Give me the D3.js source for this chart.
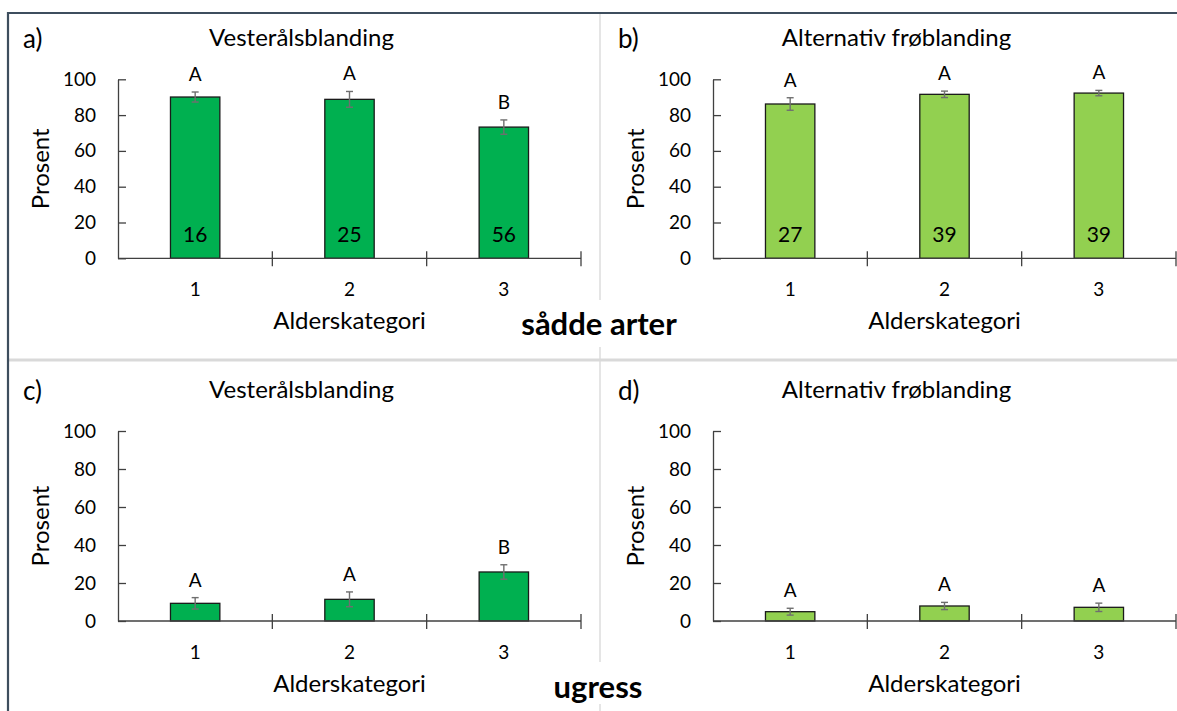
<!DOCTYPE html>
<html>
<head>
<meta charset="utf-8">
<script src="https://cdn.jsdelivr.net/npm/d3@7"></script>
<style>
  body { margin: 0; background: #fff; }
  svg text { font-family: Lato, "Open Sans", sans-serif; fill: #000; }
</style>
</head>
<body>
<div id="chart"></div>
<script>
// data
var categories = ["1", "2", "3"];
var yTicks = [0, 20, 40, 60, 80, 100];

var saddeVest = [90.1, 88.8, 73.3];
var saddeVestErr = [2.8, 4.4, 4.0];
var saddeVestLetters = ["A", "A", "B"];
var saddeVestN = [16, 25, 56];

var saddeAlt = [86.2, 91.6, 92.3];
var saddeAltErr = [3.5, 1.8, 1.5];
var saddeAltLetters = ["A", "A", "A"];
var saddeAltN = [27, 39, 39];

var ugressVest = [9.3, 11.4, 25.8];
var ugressVestErr = [3.0, 3.9, 3.8];
var ugressVestLetters = ["A", "A", "B"];

var ugressAlt = [4.9, 7.9, 7.2];
var ugressAltErr = [1.8, 1.9, 2.2];
var ugressAltLetters = ["A", "A", "A"];

var titleVest = "Vesterålsblanding";
var titleAlt = "Alternativ frøblanding";

//SVG設定
var width = 1177, height = 711;
var svg = d3.select("#chart").append("svg").attr("width", width).attr("height", height);

// ramme og skillelinjer
svg.append("line").attr("x1", 600).attr("x2", 600).attr("y1", 14).attr("y2", 300).attr("stroke", "#d4d4d4").attr("stroke-width", 1.2);
svg.append("line").attr("x1", 600).attr("x2", 600).attr("y1", 347).attr("y2", 662).attr("stroke", "#d4d4d4").attr("stroke-width", 1.2);
svg.append("line").attr("x1", 600).attr("x2", 600).attr("y1", 704).attr("y2", 711).attr("stroke", "#d4d4d4").attr("stroke-width", 1.2);
svg.append("line").attr("x1", 8).attr("x2", width).attr("y1", 360).attr("y2", 360).attr("stroke", "#d9d9d9").attr("stroke-width", 3);
svg.append("line").attr("x1", 7).attr("x2", width).attr("y1", 13).attr("y2", 13).attr("stroke", "#3e4e5e").attr("stroke-width", 2.2);
svg.append("line").attr("x1", 8).attr("x2", 8).attr("y1", 12).attr("y2", height).attr("stroke", "#3e4e5e").attr("stroke-width", 2.2);

var panels = [
    { label: "a)", title: titleVest, values: saddeVest, err: saddeVestErr, letters: saddeVestLetters, n: saddeVestN, color: "#00b050", x0: 118, x1: 581, yTop: 79.3, yBot: 258.3 },
    { label: "b)", title: titleAlt, values: saddeAlt, err: saddeAltErr, letters: saddeAltLetters, n: saddeAltN, color: "#92d050", x0: 713, x1: 1176, yTop: 79.3, yBot: 258.3 },
    { label: "c)", title: titleVest, values: ugressVest, err: ugressVestErr, letters: ugressVestLetters, n: null, color: "#00b050", x0: 118, x1: 581, yTop: 431, yBot: 621 },
    { label: "d)", title: titleAlt, values: ugressAlt, err: ugressAltErr, letters: ugressAltLetters, n: null, color: "#92d050", x0: 713, x1: 1176, yTop: 431, yBot: 621 }
];

panels.forEach(function(p) {
    var g = svg.append("g");
    var xScale = d3.scaleBand().domain(categories).range([p.x0, p.x1]).padding(0);
    var yScale = d3.scaleLinear().domain([0, 100]).range([p.yBot, p.yTop]);
    var barW = xScale.bandwidth() * 0.32;
    var rows = categories.map(function(c, i) {
        return { cat: c, v: p.values[i], e: p.err[i], letter: p.letters[i], n: p.n ? p.n[i] : null };
    });

    // søyler
    g.selectAll("rect").data(rows).enter().append("rect")
        .attr("x", function(d) { return xScale(d.cat) + xScale.bandwidth() / 2 - barW / 2; })
        .attr("y", function(d) { return yScale(d.v); })
        .attr("width", barW)
        .attr("height", function(d) { return yScale(0) - yScale(d.v); })
        .attr("fill", p.color)
        .attr("stroke", "#1a1a1a")
        .attr("stroke-width", 1.3);

    // feilstolper
    var eb = g.append("g").attr("stroke", "#6f6f6f").attr("stroke-width", 1.4);
    rows.forEach(function(d) {
        var cx = xScale(d.cat) + xScale.bandwidth() / 2;
        eb.append("line").attr("x1", cx).attr("x2", cx).attr("y1", yScale(d.v + d.e)).attr("y2", yScale(d.v - d.e));
        eb.append("line").attr("x1", cx - 3.5).attr("x2", cx + 3.5).attr("y1", yScale(d.v + d.e)).attr("y2", yScale(d.v + d.e));
        eb.append("line").attr("x1", cx - 3.5).attr("x2", cx + 3.5).attr("y1", yScale(d.v - d.e)).attr("y2", yScale(d.v - d.e));
    });

    // bokstaver
    g.selectAll(".letter").data(rows).enter().append("text")
        .attr("class", "letter")
        .attr("x", function(d) { return xScale(d.cat) + xScale.bandwidth() / 2; })
        .attr("y", function(d) { return yScale(d.v + d.e) - 11; })
        .attr("text-anchor", "middle")
        .attr("font-size", "19px")
        .text(function(d) { return d.letter; });

    // antall i søylene
    if (p.n) {
        g.selectAll(".nlab").data(rows).enter().append("text")
            .attr("class", "nlab")
            .attr("x", function(d) { return xScale(d.cat) + xScale.bandwidth() / 2; })
            .attr("y", yScale(0) - 16)
            .attr("text-anchor", "middle")
            .attr("font-size", "21px")
            .text(function(d) { return d.n; });
    }

    // y-akse
    var axisy = d3.axisLeft(yScale).tickValues(yTicks).tickSize(-8).tickPadding(22).tickSizeOuter(0);
    var gy = g.append("g").attr("transform", "translate(" + p.x0 + ",0)").call(axisy);
    gy.select(".domain").attr("stroke", "#404040").attr("stroke-width", 1.3);
    gy.selectAll(".tick line").attr("stroke", "#404040").attr("stroke-width", 1.3);
    gy.selectAll(".tick text").attr("font-size", "19px").attr("font-family", "Lato").attr("fill", "#000");

    // x-akse
    var ax = g.append("g").attr("transform", "translate(0," + p.yBot + ")");
    ax.append("line").attr("x1", p.x0).attr("x2", p.x1).attr("y1", 0).attr("y2", 0).attr("stroke", "#404040").attr("stroke-width", 1.3);
    var bounds = categories.map(function(c) { return xScale(c); }).concat([p.x1]);
    ax.selectAll(".xt").data(bounds.slice(1)).enter().append("line")
        .attr("x1", function(d) { return d; }).attr("x2", function(d) { return d; })
        .attr("y1", -7).attr("y2", 8)
        .attr("stroke", "#404040").attr("stroke-width", 1.3);
    ax.selectAll(".xl").data(categories).enter().append("text")
        .attr("x", function(d) { return xScale(d) + xScale.bandwidth() / 2; })
        .attr("y", 38)
        .attr("text-anchor", "middle")
        .attr("font-size", "19px")
        .text(function(d) { return d; });

    // aksetitler
    g.append("text")
        .attr("x", (p.x0 + p.x1) / 2)
        .attr("y", p.yBot + 71)
        .attr("text-anchor", "middle")
        .attr("font-size", "24px")
        .text("Alderskategori");
    g.append("text")
        .attr("transform", "translate(" + (p.x0 - 69) + "," + ((p.yTop + p.yBot) / 2) + ") rotate(-90)")
        .attr("text-anchor", "middle")
        .attr("font-size", "24px")
        .text("Prosent");

    // tittel + panelbokstav
    g.append("text")
        .attr("x", (p.x0 + p.x1) / 2 - 48)
        .attr("y", p.yTop - 33)
        .attr("text-anchor", "middle")
        .attr("font-size", "24px")
        .text(p.title);
    g.append("text")
        .attr("x", p.x0 - 95)
        .attr("y", p.yTop - 31)
        .attr("font-size", "26px")
        .text(p.label);
});

// gruppetekster
svg.append("text").attr("x", 599).attr("y", 335).attr("text-anchor", "middle")
    .attr("font-size", "31px").attr("font-weight", "bold").text("sådde arter");
svg.append("text").attr("x", 598).attr("y", 698).attr("text-anchor", "middle")
    .attr("font-size", "31px").attr("font-weight", "bold").text("ugress");
</script>
</body>
</html>
